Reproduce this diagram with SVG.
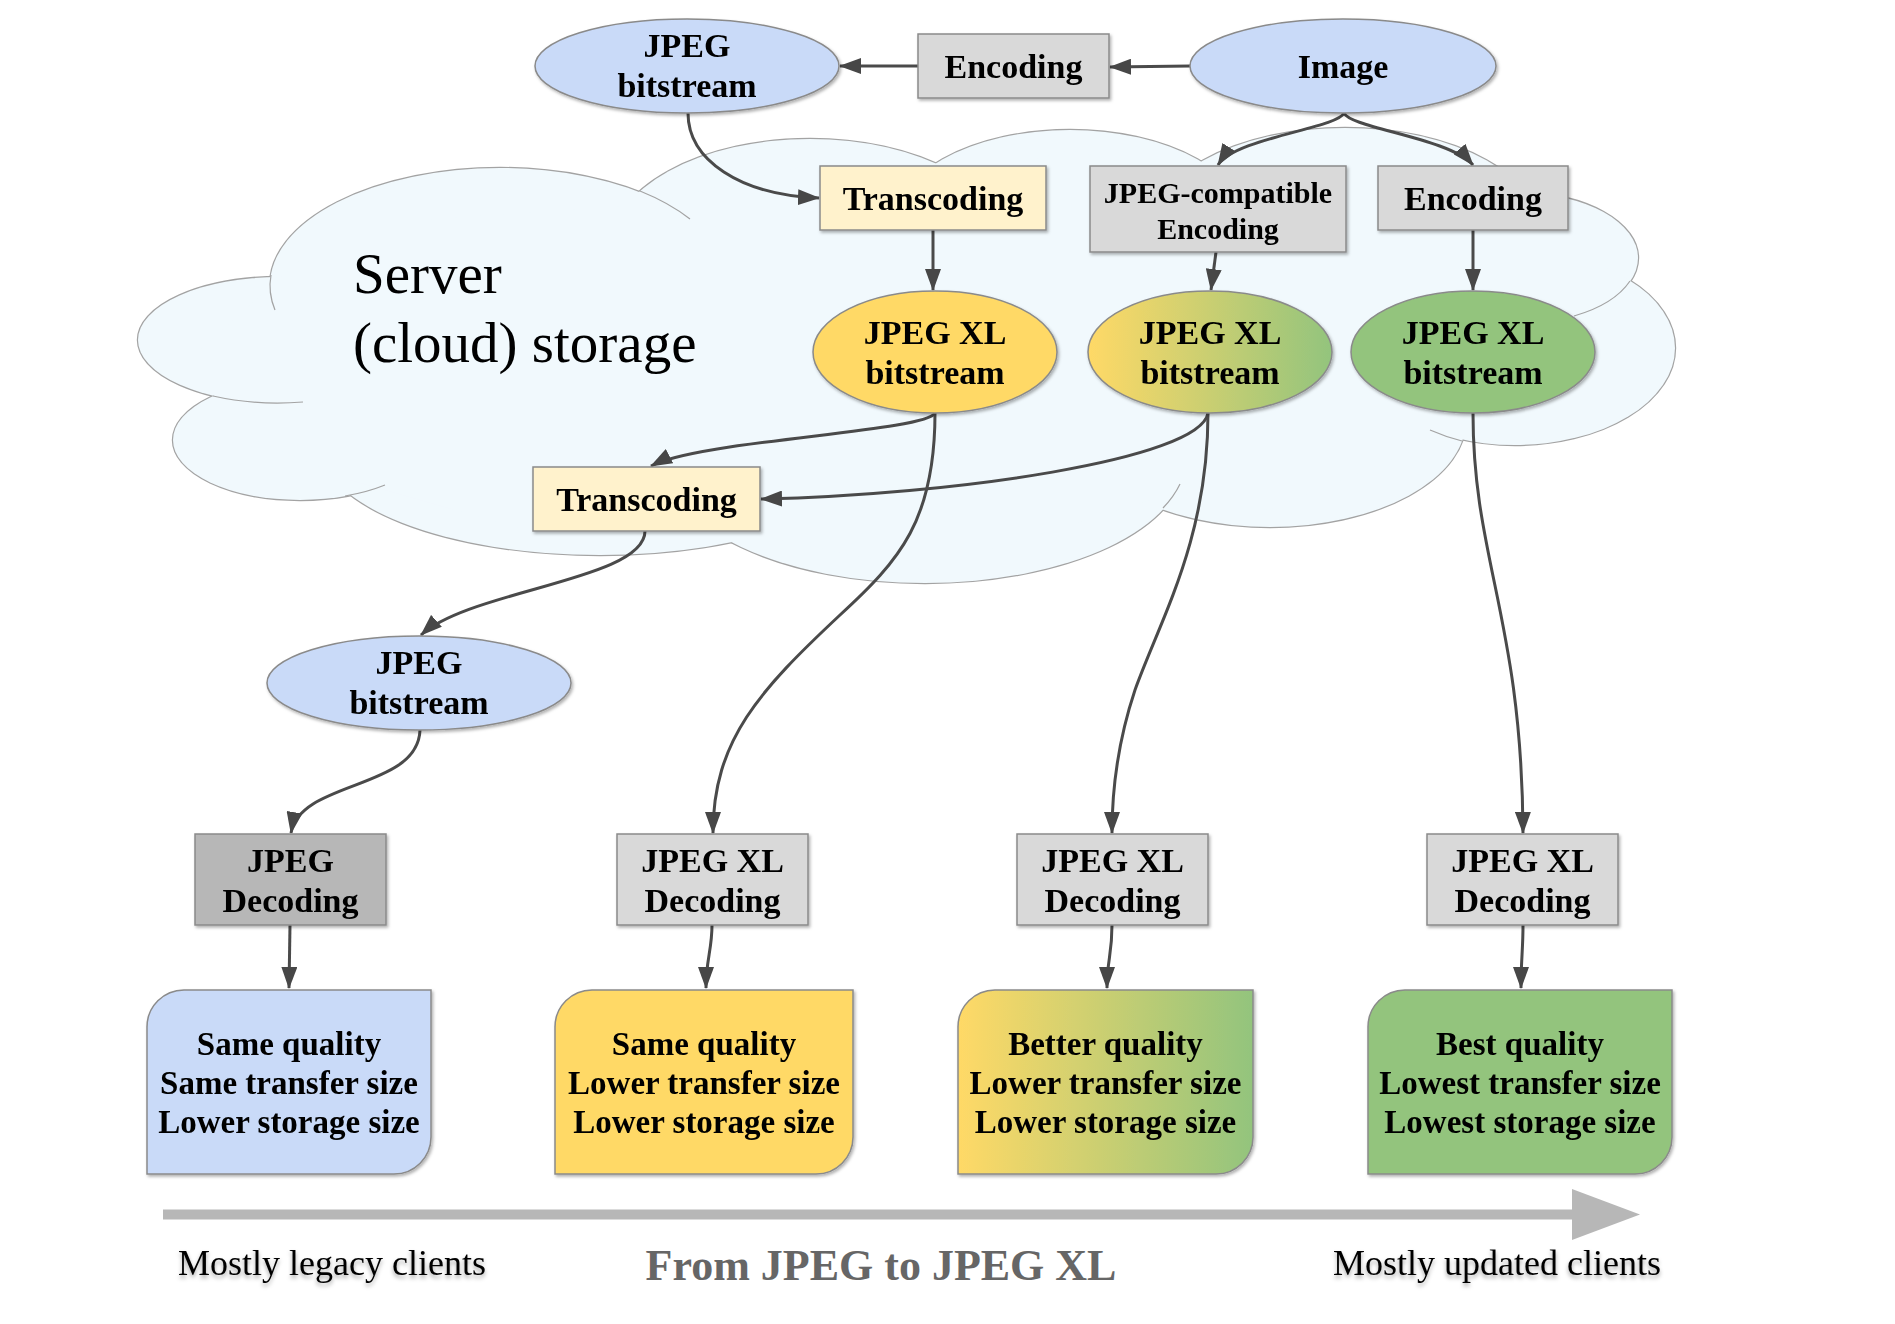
<svg xmlns="http://www.w3.org/2000/svg" width="1895" height="1324" viewBox="0 0 1895 1324">
<style>
.t{font-family:"Liberation Serif","Times New Roman",serif;font-weight:bold;font-size:34px;fill:#000;text-anchor:middle}
.ts{font-size:30px}
.tr{font-size:33px}
.box{stroke:#8a8a8a;stroke-width:1.5}
.gray{fill:#d9d9d9}
.dgray{fill:#b7b7b7}
.lyel{fill:#fff2cc}
.blue{fill:#c9daf8}
.yel{fill:#ffd966}
.grn{fill:#93c47d}
.grad{fill:url(#yg)}
.cl{fill:#f1f9fd;stroke:#a3a3a3;stroke-width:2.4}
.clf{fill:#f1f9fd;stroke:none}
.stub{fill:none;stroke:#a3a3a3;stroke-width:1.2}
.c{fill:none;stroke:#4a4a4a;stroke-width:3;marker-end:url(#ah)}
.foot{font-family:"Liberation Serif","Times New Roman",serif;font-size:36px;fill:#000}
</style>
<defs>
<linearGradient id="yg" x1="0" y1="0" x2="1" y2="0">
<stop offset="0" stop-color="#ffd966"/>
<stop offset="1" stop-color="#93c47d"/>
</linearGradient>
<filter id="sh" x="-10%" y="-10%" width="120%" height="130%">
<feDropShadow dx="1.5" dy="2" stdDeviation="1.5" flood-color="#000" flood-opacity="0.3"/>
</filter>
<filter id="tsh" x="-5%" y="-20%" width="110%" height="160%">
<feDropShadow dx="0" dy="3" stdDeviation="2" flood-color="#000" flood-opacity="0.35"/>
</filter>
<marker id="ah" markerUnits="userSpaceOnUse" markerWidth="22" markerHeight="16" viewBox="0 0 22 16" refX="21" refY="8" orient="auto">
<path d="M0,0 L22,8 L0,16 Z" fill="#474747"/>
</marker>
</defs>
<rect width="1895" height="1324" fill="#fff"/>

<g id="cloud">
<g>
<ellipse class="cl" cx="500" cy="285" rx="230" ry="117"/>
<ellipse class="cl" cx="810" cy="249" rx="200" ry="110"/>
<ellipse class="cl" cx="1070" cy="230" rx="180" ry="100"/>
<ellipse class="cl" cx="1345" cy="238" rx="200" ry="110"/>
<ellipse class="cl" cx="1520" cy="258" rx="118" ry="65"/>
<ellipse class="cl" cx="1515" cy="348" rx="160" ry="97"/>
<ellipse class="cl" cx="1270" cy="420" rx="196" ry="107"/>
<ellipse class="cl" cx="925" cy="460" rx="260" ry="123"/>
<ellipse class="cl" cx="600" cy="445" rx="280" ry="110"/>
<ellipse class="cl" cx="300" cy="440" rx="127" ry="60"/>
<ellipse class="cl" cx="280" cy="340" rx="142" ry="63"/>
</g>
<g>
<ellipse class="clf" cx="500" cy="285" rx="230" ry="117"/>
<ellipse class="clf" cx="810" cy="249" rx="200" ry="110"/>
<ellipse class="clf" cx="1070" cy="230" rx="180" ry="100"/>
<ellipse class="clf" cx="1345" cy="238" rx="200" ry="110"/>
<ellipse class="clf" cx="1520" cy="258" rx="118" ry="65"/>
<ellipse class="clf" cx="1515" cy="348" rx="160" ry="97"/>
<ellipse class="clf" cx="1270" cy="420" rx="196" ry="107"/>
<ellipse class="clf" cx="925" cy="460" rx="260" ry="123"/>
<ellipse class="clf" cx="600" cy="445" rx="280" ry="110"/>
<ellipse class="clf" cx="300" cy="440" rx="127" ry="60"/>
<ellipse class="clf" cx="280" cy="340" rx="142" ry="63"/>
<polygon class="clf" points="200,350 300,260 420,220 640,205 810,165 935,185 1070,150 1200,180 1345,150 1500,200 1590,240 1640,330 1500,430 1440,440 1270,510 1150,500 925,570 730,530 560,540 350,480 230,430"/>
</g>
<path class="stub" d="M 640 191 A 230 117 0 0 1 690 219"/>
<path class="stub" d="M 213 396 A 142 63 0 0 0 303 402"/>
<path class="stub" d="M 345 496 A 127 60 0 0 0 385 485"/>
<path class="stub" d="M 271 275 A 230 117 0 0 0 275 310"/>
<path class="stub" d="M 1163 508 A 260 123 0 0 0 1180 484"/>
<path class="stub" d="M 1630 281 A 118 65 0 0 1 1574 316"/>
<path class="stub" d="M 1462 441 A 160 97 0 0 1 1430 430"/>
<text x="353" y="293" font-family="Liberation Serif, Times New Roman, serif" font-size="57" fill="#000">Server</text>
<text x="353" y="362" font-family="Liberation Serif, Times New Roman, serif" font-size="57" fill="#000">(cloud) storage</text>
</g>

<g id="connectors">
<path class="c" d="M 1190 66 L 1110 67"/>
<path class="c" d="M 918 66 L 840 66"/>
<path class="c" d="M 688 113 C 688 160 740 195 819 198"/>
<path class="c" d="M 1344 113 C 1338 128 1235 138 1218 165"/>
<path class="c" d="M 1344 113 C 1350 128 1450 138 1473 165"/>
<path class="c" d="M 933 230 L 933 290"/>
<path class="c" d="M 1216 252 L 1211 290"/>
<path class="c" d="M 1473 230 L 1473 290"/>
<path class="c" d="M 935 413 C 925 432 700 440 651 466"/>
<path class="c" d="M 1208 413 C 1200 460 950 495 761 499"/>
<path class="c" d="M 935 413 C 935 520 900 560 840 615 C 760 690 713 740 713 833"/>
<path class="c" d="M 1208 413 C 1208 540 1160 620 1135 690 C 1120 735 1112 780 1112 833"/>
<path class="c" d="M 1473 413 C 1473 560 1522 620 1523 833"/>
<path class="c" d="M 645 531 C 645 580 470 590 421 635"/>
<path class="c" d="M 420 730 C 418 790 300 780 291 833"/>
<path class="c" d="M 290 925 L 289 988"/>
<path class="c" d="M 712 925 C 712 950 706 960 706 988"/>
<path class="c" d="M 1112 925 C 1112 955 1107 960 1107 988"/>
<path class="c" d="M 1523 925 C 1523 950 1521 960 1521 988"/>
</g>

<g id="n-jpeg-top" filter="url(#sh)">
<ellipse class="box blue" cx="687" cy="66" rx="152" ry="47"/>
<text class="t" x="687" y="57">JPEG</text>
<text class="t" x="687" y="97">bitstream</text>
</g>
<g id="n-encoding-top" filter="url(#sh)">
<rect class="box gray" x="918" y="34" width="191" height="64"/>
<text class="t" x="1013.5" y="78">Encoding</text>
</g>
<g id="n-image" filter="url(#sh)">
<ellipse class="box blue" cx="1343" cy="66" rx="153" ry="47"/>
<text class="t" x="1343" y="78">Image</text>
</g>
<g id="n-transcoding-top" filter="url(#sh)">
<rect class="box lyel" x="820" y="166" width="226" height="64"/>
<text class="t" x="933" y="210">Transcoding</text>
</g>
<g id="n-jpeg-compatible" filter="url(#sh)">
<rect class="box gray" x="1090" y="166" width="256" height="86"/>
<text class="t ts" x="1218" y="203">JPEG-compatible</text>
<text class="t ts" x="1218" y="239">Encoding</text>
</g>
<g id="n-encoding-right" filter="url(#sh)">
<rect class="box gray" x="1378" y="166" width="190" height="64"/>
<text class="t" x="1473" y="210">Encoding</text>
</g>
<g id="n-jxl-yellow" filter="url(#sh)">
<ellipse class="box yel" cx="935" cy="352" rx="122" ry="61"/>
<text class="t" x="935" y="344">JPEG XL</text>
<text class="t" x="935" y="384">bitstream</text>
</g>
<g id="n-jxl-gradient" filter="url(#sh)">
<ellipse class="box grad" cx="1210" cy="352" rx="122" ry="61"/>
<text class="t" x="1210" y="344">JPEG XL</text>
<text class="t" x="1210" y="384">bitstream</text>
</g>
<g id="n-jxl-green" filter="url(#sh)">
<ellipse class="box grn" cx="1473" cy="352" rx="122" ry="61"/>
<text class="t" x="1473" y="344">JPEG XL</text>
<text class="t" x="1473" y="384">bitstream</text>
</g>
<g id="n-transcoding-low" filter="url(#sh)">
<rect class="box lyel" x="533" y="467" width="227" height="64"/>
<text class="t" x="646.5" y="511">Transcoding</text>
</g>
<g id="n-jpeg-low" filter="url(#sh)">
<ellipse class="box blue" cx="419" cy="683" rx="152" ry="47"/>
<text class="t" x="419" y="674">JPEG</text>
<text class="t" x="419" y="714">bitstream</text>
</g>
<g id="n-dec-jpeg" filter="url(#sh)">
<rect class="box dgray" x="195" y="834" width="191" height="91"/>
<text class="t" x="290.5" y="872">JPEG</text>
<text class="t" x="290.5" y="912">Decoding</text>
</g>
<g id="n-dec-jxl1" filter="url(#sh)">
<rect class="box gray" x="617" y="834" width="191" height="91"/>
<text class="t" x="712.5" y="872">JPEG XL</text>
<text class="t" x="712.5" y="912">Decoding</text>
</g>
<g id="n-dec-jxl2" filter="url(#sh)">
<rect class="box gray" x="1017" y="834" width="191" height="91"/>
<text class="t" x="1112.5" y="872">JPEG XL</text>
<text class="t" x="1112.5" y="912">Decoding</text>
</g>
<g id="n-dec-jxl3" filter="url(#sh)">
<rect class="box gray" x="1427" y="834" width="191" height="91"/>
<text class="t" x="1522.5" y="872">JPEG XL</text>
<text class="t" x="1522.5" y="912">Decoding</text>
</g>
<g id="n-res1" filter="url(#sh)">
<path class="box blue" d="M 184 990 H 431 V 1137 A 37 37 0 0 1 394 1174 H 147 V 1027 A 37 37 0 0 1 184 990 Z"/>
<text class="t tr" x="289" y="1055">Same quality</text>
<text class="t tr" x="289" y="1094">Same transfer size</text>
<text class="t tr" x="289" y="1133">Lower storage size</text>
</g>
<g id="n-res2" filter="url(#sh)">
<path class="box yel" d="M 592 990 H 853 V 1137 A 37 37 0 0 1 816 1174 H 555 V 1027 A 37 37 0 0 1 592 990 Z"/>
<text class="t tr" x="704" y="1055">Same quality</text>
<text class="t tr" x="704" y="1094">Lower transfer size</text>
<text class="t tr" x="704" y="1133">Lower storage size</text>
</g>
<g id="n-res3" filter="url(#sh)">
<path class="box grad" d="M 995 990 H 1253 V 1137 A 37 37 0 0 1 1216 1174 H 958 V 1027 A 37 37 0 0 1 995 990 Z"/>
<text class="t tr" x="1105.5" y="1055">Better quality</text>
<text class="t tr" x="1105.5" y="1094">Lower transfer size</text>
<text class="t tr" x="1105.5" y="1133">Lower storage size</text>
</g>
<g id="n-res4" filter="url(#sh)">
<path class="box grn" d="M 1405 990 H 1672 V 1137 A 37 37 0 0 1 1635 1174 H 1368 V 1027 A 37 37 0 0 1 1405 990 Z"/>
<text class="t tr" x="1520" y="1055">Best quality</text>
<text class="t tr" x="1520" y="1094">Lowest transfer size</text>
<text class="t tr" x="1520" y="1133">Lowest storage size</text>
</g>

<g id="progress">
<line x1="163" y1="1214.5" x2="1574" y2="1214.5" stroke="#b7b7b7" stroke-width="10"/>
<polygon points="1572,1189 1640,1214.5 1572,1240" fill="#b7b7b7"/>
<text class="foot" x="178" y="1275" filter="url(#tsh)">Mostly legacy clients</text>
<text x="881" y="1280" font-family="Liberation Serif, Times New Roman, serif" font-weight="bold" font-size="44" fill="#666" text-anchor="middle">From JPEG to JPEG XL</text>
<text class="foot" x="1333" y="1275" filter="url(#tsh)">Mostly updated clients</text>
</g>
</svg>
